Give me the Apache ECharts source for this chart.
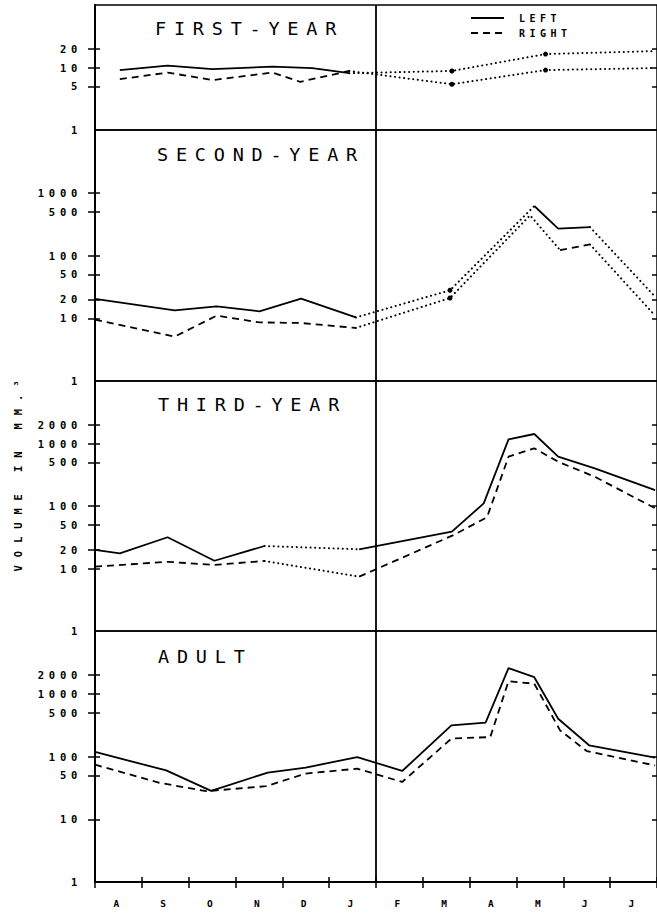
<!DOCTYPE html>
<html><head><meta charset="utf-8">
<script src="https://cdn.jsdelivr.net/npm/echarts@6/dist/echarts.min.js"></script>
<style>
html,body{margin:0;padding:0;background:#fff}
#c{width:657px;height:915px}
#c text{letter-spacing:0.45em}
#c text[style*="ttl"]{letter-spacing:0.42em}
#c text[style*="yname"]{letter-spacing:0.75em}
</style></head><body><div id="c"></div>
<script>
// ---------- data ----------
const months = ['A','S','O','N','D','J','F','M','A','M','J','J'];
const dividerMonth = 6;
const panelTitles = ['FIRST-YEAR','SECOND-YEAR','THIRD-YEAR','ADULT'];
const yAxisName = 'VOLUME IN MM.\u00B3';
const legendNames = ['LEFT','RIGHT'];

const firstYearMax = 100;
const otherMax = 10000;
const firstYearTicks = [1, 5, 10, 20];
const secondYearTicks = [1, 10, 20, 50, 100, 500, 1000];
const thirdYearTicks = [1, 10, 20, 50, 100, 500, 1000, 2000];
const adultTicks = [1, 10, 50, 100, 500, 1000, 2000];

// first-year  [month position, volume]
const firstLeft = [[0.53,9.1],[1.55,10.7],[2.51,9.4],[3.79,10.3],[4.64,9.8],[5.43,8.1]];
const firstRight = [[0.53,6.5],[1.55,8.3],[2.51,6.3],[3.79,8.3],[4.38,5.9],[5.43,8.8]];
const firstLeftDotted = [[5.43,8.1],[7.62,8.8],[9.62,16.4],[11.96,18.3]];
const firstRightDotted = [[5.43,8.8],[7.62,5.4],[9.62,9.1],[11.96,9.8]];
const firstMarked = [7.62, 9.62];

// second-year
const secondLeft = [[0,20.3],[1.7,13.3],[2.6,15.5],[3.51,12.9],[4.4,20.5],[5.57,10.3]];
const secondLeftSpring = [[9.38,615],[9.89,268],[10.57,283]];
const secondRight = [[0,9.5],[1.7,5.1],[2.6,11],[3.51,8.6],[4.4,8.4],[5.57,7.0]];
const secondRightSpring = [[9.93,122],[10.57,150]];
const secondLeftDotted = [[5.57,10.3],[7.58,27.9],[9.38,615]];
const secondLeftDottedEnd = [[10.57,283],[11.96,22]];
const secondRightDotted = [[5.57,7.0],[7.58,21],[9.29,437],[9.93,122]];
const secondRightDottedEnd = [[10.57,150],[11.96,11]];
const secondMarked = [7.58];

// third-year
const thirdLeft = [[0,19.8],[0.53,17.5],[1.55,31.6],[2.55,13.3],[3.62,22.9]];
const thirdLeftSpring = [[5.64,20.3],[7.62,38.8],[8.3,110],[8.83,1167],[9.38,1419],[9.89,615],[10.67,401],[11.96,180]];
const thirdRight = [[0,10.7],[1.55,12.8],[2.55,11.4],[3.62,13.2]];
const thirdRightSpring = [[5.64,7.4],[7.66,34.4],[8.37,66],[8.83,615],[9.38,838],[9.89,511],[10.67,294],[11.96,92]];
const thirdLeftDotted = [[3.62,22.9],[5.64,20.3]];
const thirdRightDotted = [[3.62,13.2],[5.64,7.4]];

// adult
const adultLeft = [[0,118],[1.52,60],[2.48,28.3],[3.69,55.5],[4.5,66.6],[5.6,98],[6.56,58.8],[7.61,313],[8.34,346],[8.83,2553],[9.38,1836],[9.89,400],[10.55,151],[11.96,96]];
const adultRight = [[0,74],[1.38,38],[2.38,28],[3.65,33.6],[4.5,53.5],[5.6,64],[6.56,39.3],[7.61,193],[8.44,204],[8.83,1586],[9.38,1443],[9.93,261],[10.5,122],[11.96,72]];

// ---------- layout / style ----------
const FONT = "'DejaVu Sans Mono', monospace";
const panels = [
  {max: firstYearMax, ticks: firstYearTicks, left: [firstLeft], right: [firstRight],
   leftDotted: [firstLeftDotted], rightDotted: [firstRightDotted], marked: firstMarked},
  {max: otherMax, ticks: secondYearTicks, left: [secondLeft, secondLeftSpring], right: [secondRight, secondRightSpring],
   leftDotted: [secondLeftDotted, secondLeftDottedEnd], rightDotted: [secondRightDotted, secondRightDottedEnd], marked: secondMarked},
  {max: otherMax, ticks: thirdYearTicks, left: [thirdLeft, thirdLeftSpring], right: [thirdRight, thirdRightSpring],
   leftDotted: [thirdLeftDotted], rightDotted: [thirdRightDotted], marked: []},
  {max: otherMax, ticks: adultTicks, left: [adultLeft], right: [adultRight],
   leftDotted: [], rightDotted: [], marked: []}
];
const boxes = [
  {top: 5, height: 125, tl: 155, tt: 19},
  {top: 130, height: 251, tl: 157, tt: 145},
  {top: 381, height: 250, tl: 158, tt: 395},
  {top: 631, height: 251, tl: 158, tt: 647}
];

const solidStyle = {color:'#000', width:1.8, type:'solid'};
const dashedStyle = {color:'#000', width:1.8, type:[7,5]};
const dottedStyle = {color:'#000', width:2, type:[0.1,4.5], cap:'round'};

const grid = boxes.map(b => ({left:95, top:b.top, width:564, height:b.height, show:true,
  borderColor:'#000', borderWidth:1.5, backgroundColor:'transparent'}));

const xAxis = boxes.map((b, p) => ({
  type:'value', gridIndex:p, min:0, max:12, interval:1, position:'bottom',
  axisLine:{show: p === 3, lineStyle:{color:'#000', width:2}},
  axisTick:{show: p === 3, inside:false, length:6, lineStyle:{color:'#000', width:1.5}},
  splitLine:{show:false},
  axisLabel:{show: p === 3, customValues: months.map((m, i) => i + 0.5),
    formatter: v => months[Math.floor(v)], margin:16,
    fontFamily: FONT, fontSize: 9.5, fontWeight:'bold', color:'#000'}
}));
xAxis.push({type:'value', gridIndex:3, min:0, max:12, interval:1, position:'bottom',
  axisLine:{show:false}, axisTick:{show:true, inside:true, length:5, lineStyle:{color:'#000', width:1.5}},
  splitLine:{show:false}, axisLabel:{show:false}});

const yAxis = [];
panels.forEach((pn, p) => {
  const base = {type:'log', logBase:10, gridIndex:p, min:1, max:pn.max, splitLine:{show:false}, minorTick:{show:false}};
  const tickVals = pn.ticks.filter(v => v !== 1);
  yAxis.push(Object.assign({}, base, {position:'left',
    axisLine:{show:true, lineStyle:{color:'#000', width:2}},
    axisTick:{show:true, inside:false, length:7, customValues: tickVals, lineStyle:{color:'#000', width:1.5}},
    axisLabel:{show:true, customValues: pn.ticks, margin:13, formatter: v => String(Math.round(v)),
      fontFamily: FONT, fontSize:10.5, fontWeight:'bold', color:'#000'}
  }));
  yAxis.push(Object.assign({}, base, {position:'left', axisLine:{show:false},
    axisTick:{show:true, inside:true, length:5, customValues: tickVals, lineStyle:{color:'#000', width:1.5}},
    axisLabel:{show:false}}));
  yAxis.push(Object.assign({}, base, {position:'right', axisLine:{show:false},
    axisTick:{show:true, inside:true, length:5, customValues: tickVals, lineStyle:{color:'#000', width:1.5}},
    axisLabel:{show:false}}));
});

const series = [];
panels.forEach((pn, p) => {
  const common = {type:'line', xAxisIndex:p, yAxisIndex:p*3, silent:true, z:3};
  let first = true;
  const add = (name, data, style, dotted) => {
    const s = Object.assign({}, common, {name, data, lineStyle: style, itemStyle:{color:'#000'}});
    if (dotted) {
      s.symbol = 'circle'; s.showSymbol = true; s.showAllSymbol = true;
      s.symbolSize = v => pn.marked.includes(v[0]) ? 5 : 0;
    } else {
      s.symbol = 'none';
    }
    if (first) {
      s.markLine = {silent:true, symbol:['none','none'], label:{show:false},
        lineStyle:{color:'#000', width:1.8, type:'solid'}, data:[{xAxis: dividerMonth}]};
      first = false;
    }
    series.push(s);
  };
  pn.left.forEach(d => add(legendNames[0], d, solidStyle, false));
  pn.right.forEach(d => add(legendNames[1], d, dashedStyle, false));
  pn.leftDotted.forEach(d => add(legendNames[0] + ' (dotted)', d, dottedStyle, true));
  pn.rightDotted.forEach(d => add(legendNames[1] + ' (dotted)', d, dottedStyle, true));
});

const title = boxes.map((b, p) => ({text: panelTitles[p], left: b.tl, top: b.tt, padding:0,
  textStyle:{fontFamily: FONT + ', ttl', fontSize:18.5, fontWeight:'normal', color:'#000'}}));

const chart = echarts.init(document.getElementById('c'), null, {renderer:'svg', width:657, height:915});
chart.setOption({
  animation:false,
  backgroundColor:'#fff',
  title,
  legend:{data: legendNames, orient:'vertical', left:470, top:13, itemWidth:33, itemHeight:10, itemGap:5, padding:0,
    selectedMode:false, itemStyle:{opacity:0, borderWidth:0},
    textStyle:{fontFamily: FONT, fontSize:10, fontWeight:'bold', color:'#000', padding:[0,0,0,10]}},
  grid, xAxis, yAxis, series,
  graphic:[{type:'text', x:18, y:472, rotation: Math.PI/2, silent:true,
    style:{text: yAxisName, fontFamily: FONT + ', yname', fontSize:10.5, fontWeight:'bold', fill:'#000',
      align:'center', verticalAlign:'middle'}}]
});
</script></body></html>
